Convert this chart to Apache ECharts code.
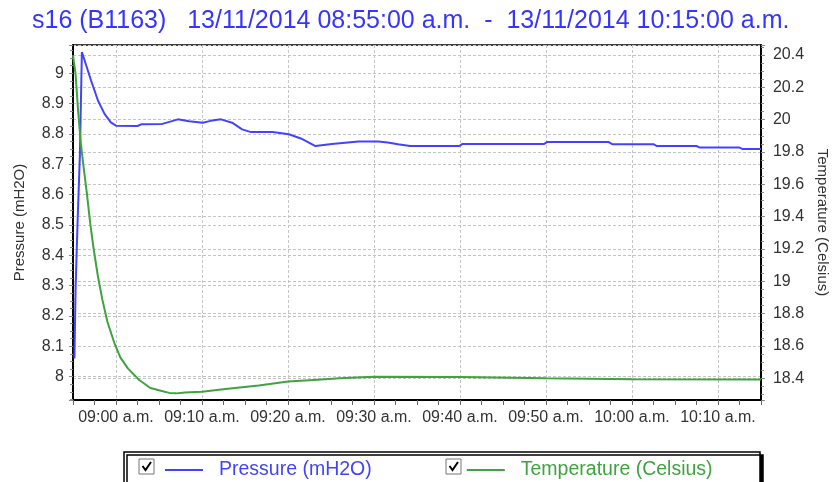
<!DOCTYPE html>
<html>
<head>
<meta charset="utf-8">
<script src="https://cdn.jsdelivr.net/npm/echarts@6/dist/echarts.min.js"></script>
<style>
  html, body { margin: 0; padding: 0; background: #fff; }
  #chart { width: 838px; height: 482px; }
</style>
</head>
<body>
<div id="chart"></div>
<script>
// pressure samples (left axis, mH2O)
const pressureTimes = ['08:55:10', '08:55:18', '08:55:32', '08:55:48', '08:56:02', '08:57:06', '08:57:54', '08:58:40',
  '08:59:24', '09:00:00', '09:02:30', '09:03:00', '09:05:24', '09:06:30', '09:07:12', '09:08:30', '09:10:06',
  '09:11:00', '09:12:12', '09:13:30', '09:14:40', '09:15:42', '09:18:12', '09:20:06', '09:21:30', '09:23:12',
  '09:25:06', '09:28:12', '09:30:30', '09:31:36', '09:32:48', '09:34:12', '09:39:54', '09:40:18', '09:49:48',
  '09:50:06', '09:57:18', '09:57:42', '10:02:30', '10:02:54', '10:07:30', '10:07:54', '10:12:30', '10:12:54', '10:15:00']
const pressureValues = [8.06, 8.29, 8.51, 8.73, 9.07, 8.976, 8.91, 8.866,
  8.838, 8.827, 8.826, 8.832, 8.833, 8.842, 8.848, 8.842, 8.837,
  8.843, 8.848, 8.837, 8.815, 8.806, 8.806, 8.799, 8.785, 8.760,
  8.767, 8.775, 8.775, 8.772, 8.766, 8.760, 8.760, 8.767, 8.767,
  8.773, 8.773, 8.766, 8.766, 8.760, 8.760, 8.755, 8.755, 8.750, 8.750]

// temperature samples (right axis, Celsius)
const tempTimes = ['08:55:00', '08:55:18', '08:55:36', '08:55:54', '08:56:12', '08:56:36', '08:57:00', '08:57:24',
  '08:57:54', '08:58:24', '08:59:00', '08:59:48', '09:00:30', '09:01:24', '09:02:42', '09:04:00', '09:05:06',
  '09:06:12', '09:07:00', '09:08:00', '09:10:00', '09:13:00', '09:16:36', '09:20:00', '09:23:00', '09:26:00',
  '09:30:00', '09:40:00', '09:50:00', '10:00:00', '10:15:00']
const tempValues = [20.40, 20.28, 20.05, 19.86, 19.72, 19.55, 19.36, 19.20,
  19.03, 18.89, 18.75, 18.62, 18.53, 18.46, 18.39, 18.34, 18.325,
  18.31, 18.307, 18.313, 18.317, 18.335, 18.355, 18.38, 18.39, 18.40,
  18.41, 18.408, 18.40, 18.395, 18.393]

const seriesNames = ['Pressure (mH2O)', 'Temperature (Celsius)']
const titleText = 's16 (B1163)   13/11/2014 08:55:00 a.m.  -  13/11/2014 10:15:00 a.m.'

const toMin = (t) => {
  const [h, m, s] = t.split(':').map(Number)
  return h * 60 + m + s / 60
}
const pad = (n) => String(n).padStart(2, '0')
const timeLabel = (v) => pad(Math.floor(v / 60)) + ':' + pad(Math.round(v % 60)) + ' a.m.'

const blue = '#4343ff'
const green = '#3fa33f'
const gridLine = { show: true, lineStyle: { color: '#c4c4c4', type: [3, 2], width: 1 } }
const labelFont = { color: '#333', fontFamily: 'Liberation Sans', fontSize: 16 }

const chart = echarts.init(document.getElementById('chart'))
chart.setOption({
  animation: false,
  title: {
    text: titleText,
    left: 27,
    top: 4,
    textStyle: { color: '#3535ff', fontFamily: 'Liberation Sans', fontSize: 25, fontWeight: 'normal' },
  },
  grid: { left: 73, right: 74, top: 45, bottom: 82, show: true, borderColor: '#000', borderWidth: 1.5 },
  legend: {
    left: 160,
    top: 455,
    icon: 'rect',
    itemWidth: 38,
    itemHeight: 2,
    itemGap: 95,
    selectedMode: false,
    textStyle: { fontFamily: 'Liberation Sans', fontSize: 19.5, rich: { g: { width: 11 } } },
    formatter: (name) => '{g|}' + name,
    data: [
      { name: seriesNames[0], textStyle: { color: blue } },
      { name: seriesNames[1], textStyle: { color: green } },
    ],
  },
  graphic: [
    {
      type: 'rect', z: 0,
      shape: { x: 124, y: 452, width: 636, height: 42 },
      style: { fill: '#fff', stroke: '#000', lineWidth: 1.5, shadowColor: '#000', shadowOffsetX: 3, shadowOffsetY: 3, shadowBlur: 0 },
    },
    { type: 'rect', z: 10, shape: { x: 139, y: 459, width: 15, height: 15 }, style: { fill: '#fff', stroke: '#777', lineWidth: 1 } },
    { type: 'polyline', z: 11, shape: { points: [[142.5, 466], [145.5, 470], [151, 462]] }, style: { stroke: '#000', lineWidth: 2, fill: null } },
    { type: 'rect', z: 10, shape: { x: 446, y: 459, width: 15, height: 15 }, style: { fill: '#fff', stroke: '#777', lineWidth: 1 } },
    { type: 'polyline', z: 11, shape: { points: [[449.5, 466], [452.5, 470], [458, 462]] }, style: { stroke: '#000', lineWidth: 2, fill: null } },
  ],
  xAxis: {
    type: 'value',
    min: toMin('08:55:00'),
    max: toMin('10:15:00'),
    minInterval: 10,
    maxInterval: 10,
    axisLine: { lineStyle: { color: '#000', width: 2 } },
    axisTick: { show: true, length: 5, lineStyle: { color: '#666' } },
    minorTick: { show: true, splitNumber: 4, length: 5, lineStyle: { color: '#666' } },
    splitLine: gridLine,
    axisLabel: { ...labelFont, margin: 10, showMinLabel: false, showMaxLabel: false, formatter: timeLabel },
  },
  yAxis: [
    {
      type: 'value',
      min: 7.923,
      max: 9.093,
      minInterval: 0.1,
      maxInterval: 0.1,
      name: seriesNames[0],
      nameLocation: 'middle',
      nameGap: 46,
      nameTextStyle: { color: '#333', fontFamily: 'Liberation Sans', fontSize: 15 },
      axisLine: { show: true, lineStyle: { color: '#000', width: 2 } },
      axisTick: { show: true, length: 4, lineStyle: { color: '#888' } },
      minorTick: { show: true, splitNumber: 4, length: 3, lineStyle: { color: '#888' } },
      splitLine: gridLine,
      axisLabel: { ...labelFont, margin: 9, showMinLabel: false, showMaxLabel: false },
    },
    {
      type: 'value',
      min: 18.266,
      max: 20.462,
      minInterval: 0.2,
      maxInterval: 0.2,
      position: 'right',
      name: seriesNames[1],
      nameLocation: 'middle',
      nameRotate: -90,
      nameGap: 52,
      nameTextStyle: { color: '#333', fontFamily: 'Liberation Sans', fontSize: 15 },
      axisLine: { show: true, lineStyle: { color: '#000', width: 2 } },
      axisTick: { show: true, length: 4, lineStyle: { color: '#888' } },
      minorTick: { show: true, splitNumber: 4, length: 3, lineStyle: { color: '#888' } },
      splitLine: gridLine,
      axisLabel: { ...labelFont, margin: 12, showMinLabel: false, showMaxLabel: false },
    },
  ],
  series: [
    {
      name: seriesNames[0],
      type: 'line',
      yAxisIndex: 0,
      symbol: 'none',
      lineStyle: { color: blue, width: 2 },
      itemStyle: { color: blue },
      data: pressureTimes.map((t, i) => [toMin(t), pressureValues[i]]),
    },
    {
      name: seriesNames[1],
      type: 'line',
      yAxisIndex: 1,
      symbol: 'none',
      lineStyle: { color: green, width: 2 },
      itemStyle: { color: green },
      data: tempTimes.map((t, i) => [toMin(t), tempValues[i]]),
    },
  ],
})
</script>
</body>
</html>
